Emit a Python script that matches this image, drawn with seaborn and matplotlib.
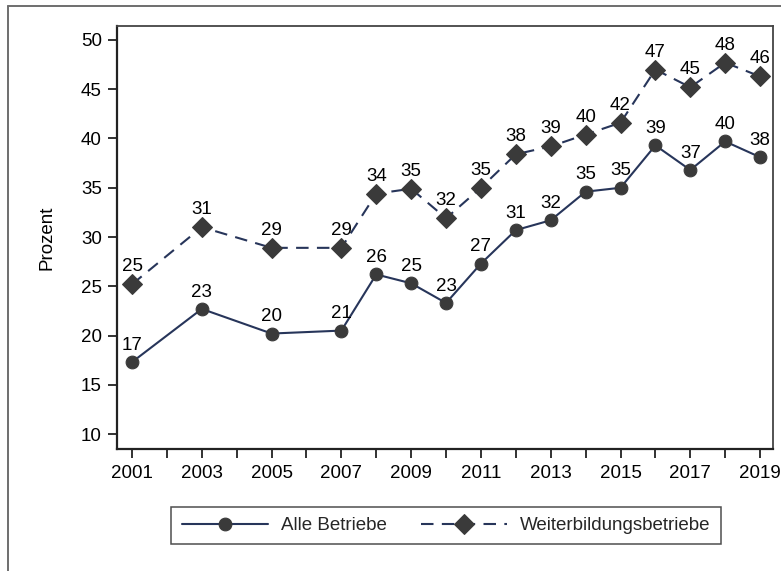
import matplotlib
matplotlib.use("Agg")
import matplotlib.pyplot as plt
import seaborn as sns
from matplotlib.lines import Line2D

years = [2001, 2003, 2005, 2007, 2008, 2009, 2010, 2011, 2012, 2013, 2014, 2015, 2016, 2017, 2018, 2019]
alle = [17.3, 22.7, 20.2, 20.5, 26.2, 25.3, 23.3, 27.3, 30.7, 31.7, 34.6, 35.0, 39.3, 36.8, 39.7, 38.1]
alle_labels = ["17", "23", "20", "21", "26", "25", "23", "27", "31", "32", "35", "35", "39", "37", "40", "38"]
weiter = [25.2, 31.0, 28.9, 28.9, 34.4, 34.9, 31.9, 35.0, 38.4, 39.2, 40.4, 41.6, 47.0, 45.2, 47.7, 46.3]
weiter_labels = ["25", "31", "29", "29", "34", "35", "32", "35", "38", "39", "40", "42", "47", "45", "48", "46"]
xtick_years = list(range(2001, 2020))
xtick_labels = [str(y) if y % 2 == 1 else "" for y in xtick_years]
ytick_values = list(range(10, 51, 5))

sns.set_style("ticks")
plt.rcParams["font.family"] = ["Liberation Sans", "DejaVu Sans"]
FS = 13.5
line_col = "#27355a"
mark_col = "#3a3a3a"

fig = plt.figure(figsize=(7.81, 5.71), dpi=100)
ax = fig.add_axes([117 / 781, 1 - 449 / 571, 656 / 781, 423 / 571])

sns.lineplot(x=years, y=alle, ax=ax, color=line_col, linewidth=1.5,
             marker="o", markersize=9.2, markerfacecolor=mark_col,
             markeredgecolor=mark_col, label="Alle Betriebe")
sns.lineplot(x=years, y=weiter, ax=ax, color=line_col, linewidth=1.5,
             linestyle=(0, (6, 4)), marker="D", markersize=10,
             markerfacecolor=mark_col, markeredgecolor=mark_col,
             label="Weiterbildungsbetriebe")

for x, y, t in zip(years, alle, alle_labels):
    ax.annotate(t, (x, y), xytext=(0, 6), textcoords="offset points",
                ha="center", va="bottom", fontsize=FS, color="black")
for x, y, t in zip(years, weiter, weiter_labels):
    ax.annotate(t, (x, y), xytext=(0, 6.5), textcoords="offset points",
                ha="center", va="bottom", fontsize=FS, color="black")

ax.set_xlim(2000.57, 2019.37)
ax.set_ylim(8.48, 51.42)
ax.set_xticks(xtick_years)
ax.set_xticklabels(xtick_labels)
ax.set_yticks(ytick_values)
ax.tick_params(axis="both", labelsize=FS, length=6.5, width=1.3, color="#222222",
               labelcolor="black")
ax.tick_params(axis="x", pad=5)
ax.tick_params(axis="y", pad=4.5)
ax.set_xlabel("")
ax.set_ylabel("Prozent", fontsize=FS, color="black")
ax.yaxis.set_label_coords(-0.093, 0.5)

for side in ["left", "bottom"]:
    ax.spines[side].set_color("#222222")
    ax.spines[side].set_linewidth(1.6)
for side in ["top", "right"]:
    ax.spines[side].set_color("#444444")
    ax.spines[side].set_linewidth(1.3)

handles, labels = ax.get_legend_handles_labels()
if ax.get_legend() is not None:
    ax.get_legend().remove()
leg = fig.legend(handles, labels, loc="center", ncol=2,
                 bbox_to_anchor=(446 / 781, 1 - 525.5 / 571),
                 fontsize=FS, frameon=True, fancybox=False,
                 handlelength=4.6, handletextpad=0.7, columnspacing=1.8,
                 borderpad=0.55)
leg.get_frame().set_edgecolor("#222222")
leg.get_frame().set_linewidth(1.1)

# outer frame (cropped at right and bottom)
fig.add_artist(Line2D([8 / 781, 8 / 781], [0, 1 - 6 / 571], transform=fig.transFigure,
                      color="#6e6e6e", linewidth=1.4))
fig.add_artist(Line2D([8 / 781, 1], [1 - 6 / 571, 1 - 6 / 571], transform=fig.transFigure,
                      color="#6e6e6e", linewidth=1.4))

fig.savefig("out.png", dpi=100)
